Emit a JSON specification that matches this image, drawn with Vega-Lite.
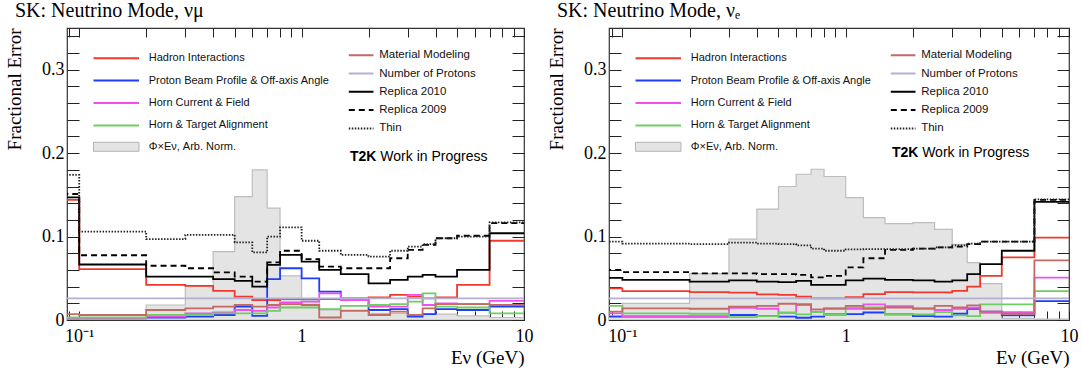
{
  "$schema": "https://vega.github.io/schema/vega-lite/v6.json",
  "autosize": {"type": "pad"},
  "padding": {"left": 4, "top": 0, "right": 4, "bottom": 4},
  "bounds": "flush",
  "spacing": 85,
  "datasets": {
    "numu": [
      {"e": 0.05, "had": 0.144, "pbp": 0.002, "hcf": 0.002, "hta": 0.003, "mat": 0.007, "pot": 0.026, "r10": 0.147, "r09": 0.151, "thin": 0.174, "flux": 0.001},
      {"e": 0.1, "had": 0.061, "pbp": 0.002, "hcf": 0.002, "hta": 0.003, "mat": 0.006, "pot": 0.026, "r10": 0.0665, "r09": 0.0776, "thin": 0.106, "flux": 0.002},
      {"e": 0.2, "had": 0.042, "pbp": 0.003, "hcf": 0.004, "hta": 0.006, "mat": 0.012, "pot": 0.026, "r10": 0.052, "r09": 0.065, "thin": 0.097, "flux": 0.018},
      {"e": 0.3, "had": 0.041, "pbp": 0.004, "hcf": 0.008, "hta": 0.006, "mat": 0.014, "pot": 0.026, "r10": 0.052, "r09": 0.062, "thin": 0.102, "flux": 0.041},
      {"e": 0.4, "had": 0.035, "pbp": 0.006, "hcf": 0.009, "hta": 0.008, "mat": 0.016, "pot": 0.026, "r10": 0.049, "r09": 0.057, "thin": 0.102, "flux": 0.082},
      {"e": 0.5, "had": 0.028, "pbp": 0.016, "hcf": 0.012, "hta": 0.008, "mat": 0.018, "pot": 0.026, "r10": 0.047, "r09": 0.052, "thin": 0.093, "flux": 0.148},
      {"e": 0.6, "had": 0.024, "pbp": 0.005, "hcf": 0.011, "hta": 0.008, "mat": 0.016, "pot": 0.026, "r10": 0.040, "r09": 0.046, "thin": 0.081, "flux": 0.180},
      {"e": 0.7, "had": 0.024, "pbp": 0.049, "hcf": 0.015, "hta": 0.011, "mat": 0.018, "pot": 0.026, "r10": 0.066, "r09": 0.069, "thin": 0.100, "flux": 0.134},
      {"e": 0.8, "had": 0.025, "pbp": 0.062, "hcf": 0.021, "hta": 0.015, "mat": 0.019, "pot": 0.026, "r10": 0.078, "r09": 0.083, "thin": 0.111, "flux": 0.053},
      {"e": 1.0, "had": 0.025, "pbp": 0.050, "hcf": 0.022, "hta": 0.015, "mat": 0.018, "pot": 0.026, "r10": 0.070, "r09": 0.073, "thin": 0.095, "flux": 0.024},
      {"e": 1.2, "had": 0.025, "pbp": 0.034, "hcf": 0.032, "hta": 0.013, "mat": 0.003, "pot": 0.026, "r10": 0.060, "r09": 0.064, "thin": 0.083, "flux": 0.012},
      {"e": 1.5, "had": 0.025, "pbp": 0.026, "hcf": 0.024, "hta": 0.017, "mat": 0.011, "pot": 0.026, "r10": 0.055, "r09": 0.062, "thin": 0.078, "flux": 0.012},
      {"e": 2.0, "had": 0.027, "pbp": 0.012, "hcf": 0.016, "hta": 0.018, "mat": 0.006, "pot": 0.026, "r10": 0.044, "r09": 0.062, "thin": 0.076, "flux": 0.008},
      {"e": 2.5, "had": 0.030, "pbp": 0.013, "hcf": 0.016, "hta": 0.019, "mat": 0.010, "pot": 0.026, "r10": 0.048, "r09": 0.074, "thin": 0.083, "flux": 0.008},
      {"e": 3.0, "had": 0.028, "pbp": 0.004, "hcf": 0.030, "hta": 0.022, "mat": 0.006, "pot": 0.026, "r10": 0.052, "r09": 0.084, "thin": 0.088, "flux": 0.006},
      {"e": 3.5, "had": 0.026, "pbp": 0.007, "hcf": 0.018, "hta": 0.032, "mat": 0.014, "pot": 0.026, "r10": 0.054, "r09": 0.090, "thin": 0.091, "flux": 0.007},
      {"e": 4.0, "had": 0.027, "pbp": 0.013, "hcf": 0.020, "hta": 0.016, "mat": 0.019, "pot": 0.026, "r10": 0.052, "r09": 0.098, "thin": 0.098, "flux": 0.007},
      {"e": 5.0, "had": 0.042, "pbp": 0.012, "hcf": 0.019, "hta": 0.015, "mat": 0.019, "pot": 0.026, "r10": 0.060, "r09": 0.101, "thin": 0.100, "flux": 0.005},
      {"e": 7.0, "had": 0.095, "pbp": 0.016, "hcf": 0.023, "hta": 0.008, "mat": 0.018, "pot": 0.026, "r10": 0.104, "r09": 0.116, "thin": 0.117, "flux": 0.003},
      {"e": 10.0, "had": 0.095, "pbp": 0.016, "hcf": 0.023, "hta": 0.008, "mat": 0.018, "pot": 0.026, "r10": 0.104, "r09": 0.116, "thin": 0.117, "flux": 0.003}
    ],
    "nue": [
      {"e": 0.05, "had": 0.038, "pbp": 0.004, "hcf": 0.008, "hta": 0.017, "mat": 0.010, "pot": 0.026, "r10": 0.0505, "r09": 0.060, "thin": 0.094, "flux": 0.005},
      {"e": 0.1, "had": 0.0347, "pbp": 0.004, "hcf": 0.0047, "hta": 0.008, "mat": 0.014, "pot": 0.026, "r10": 0.048, "r09": 0.0575, "thin": 0.0915, "flux": 0.020},
      {"e": 0.2, "had": 0.0335, "pbp": 0.004, "hcf": 0.0047, "hta": 0.0075, "mat": 0.0135, "pot": 0.026, "r10": 0.046, "r09": 0.056, "thin": 0.091, "flux": 0.0555},
      {"e": 0.3, "had": 0.0327, "pbp": 0.006, "hcf": 0.0147, "hta": 0.0035, "mat": 0.016, "pot": 0.026, "r10": 0.0475, "r09": 0.056, "thin": 0.0927, "flux": 0.097},
      {"e": 0.4, "had": 0.0307, "pbp": 0.0047, "hcf": 0.0135, "hta": 0.0047, "mat": 0.017, "pot": 0.026, "r10": 0.046, "r09": 0.055, "thin": 0.0915, "flux": 0.133},
      {"e": 0.5, "had": 0.030, "pbp": 0.004, "hcf": 0.0087, "hta": 0.0087, "mat": 0.0195, "pot": 0.026, "r10": 0.0455, "r09": 0.055, "thin": 0.091, "flux": 0.160},
      {"e": 0.6, "had": 0.028, "pbp": 0.0027, "hcf": 0.018, "hta": 0.0067, "mat": 0.019, "pot": 0.026, "r10": 0.047, "r09": 0.054, "thin": 0.0895, "flux": 0.1747},
      {"e": 0.7, "had": 0.026, "pbp": 0.004, "hcf": 0.010, "hta": 0.0095, "mat": 0.0127, "pot": 0.026, "r10": 0.042, "r09": 0.051, "thin": 0.0855, "flux": 0.1807},
      {"e": 0.8, "had": 0.026, "pbp": 0.0067, "hcf": 0.0135, "hta": 0.006, "mat": 0.014, "pot": 0.026, "r10": 0.042, "r09": 0.053, "thin": 0.083, "flux": 0.172},
      {"e": 1.0, "had": 0.0275, "pbp": 0.007, "hcf": 0.0135, "hta": 0.0155, "mat": 0.017, "pot": 0.026, "r10": 0.0475, "r09": 0.063, "thin": 0.0847, "flux": 0.1467},
      {"e": 1.2, "had": 0.031, "pbp": 0.009, "hcf": 0.0187, "hta": 0.015, "mat": 0.0135, "pot": 0.026, "r10": 0.0495, "r09": 0.074, "thin": 0.085, "flux": 0.1227},
      {"e": 1.5, "had": 0.0335, "pbp": 0.0067, "hcf": 0.0167, "hta": 0.0067, "mat": 0.015, "pot": 0.026, "r10": 0.048, "r09": 0.084, "thin": 0.085, "flux": 0.1155},
      {"e": 2.0, "had": 0.033, "pbp": 0.0047, "hcf": 0.0135, "hta": 0.0067, "mat": 0.014, "pot": 0.026, "r10": 0.0475, "r09": 0.0855, "thin": 0.0855, "flux": 0.1167},
      {"e": 2.5, "had": 0.033, "pbp": 0.004, "hcf": 0.012, "hta": 0.0095, "mat": 0.017, "pot": 0.026, "r10": 0.046, "r09": 0.087, "thin": 0.087, "flux": 0.1087},
      {"e": 3.0, "had": 0.035, "pbp": 0.0075, "hcf": 0.0135, "hta": 0.0055, "mat": 0.015, "pot": 0.026, "r10": 0.0475, "r09": 0.088, "thin": 0.0895, "flux": 0.0907},
      {"e": 3.5, "had": 0.040, "pbp": 0.0135, "hcf": 0.0147, "hta": 0.0047, "mat": 0.0175, "pot": 0.026, "r10": 0.055, "r09": 0.091, "thin": 0.0915, "flux": 0.0687},
      {"e": 4.0, "had": 0.053, "pbp": 0.010, "hcf": 0.0087, "hta": 0.0187, "mat": 0.010, "pot": 0.026, "r10": 0.067, "r09": 0.094, "thin": 0.094, "flux": 0.0435},
      {"e": 5.0, "had": 0.075, "pbp": 0.0055, "hcf": 0.0095, "hta": 0.0187, "mat": 0.0075, "pot": 0.026, "r10": 0.083, "r09": 0.094, "thin": 0.094, "flux": 0.002},
      {"e": 7.0, "had": 0.0987, "pbp": 0.0227, "hcf": 0.0507, "hta": 0.0347, "mat": 0.0715, "pot": 0.026, "r10": 0.1415, "r09": 0.144, "thin": 0.1447, "flux": 0.001},
      {"e": 10.0, "had": 0.0987, "pbp": 0.0227, "hcf": 0.0507, "hta": 0.0347, "mat": 0.0715, "pot": 0.026, "r10": 0.1415, "r09": 0.144, "thin": 0.1447, "flux": 0.001}
    ]
  },
  "hconcat": [
    {
      "width": 457,
      "height": 292,
      "data": {"name": "numu"},
      "title": {"text": "SK: Neutrino Mode, νμ", "anchor": "start", "frame": "group", "dx": -52, "offset": -10, "baseline": "alphabetic", "font": "Liberation Serif", "fontSize": 20, "fontWeight": "normal", "color": "#000"},
      "layer": [
        {
          "mark": {"type": "area", "interpolate": "step-after", "stroke": "#bdbdbd", "strokeWidth": 1.2, "clip": true},
          "encoding": {
            "x": {"field": "e", "type": "quantitative", "scale": {"type": "log", "domain": [0.0881, 10], "nice": false},
              "axis": {"orient": "bottom", "values": [0.09, 0.1, 0.2, 0.3, 0.4, 0.5, 0.6, 0.7, 0.8, 0.9, 1, 2, 3, 4, 5, 6, 7, 8, 9, 10],
                "labelExpr": "datum.value == 0.1 ? '10⁻¹' : (datum.value == 1 ? '1' : (datum.value == 10 ? '10' : ''))",
                "tickSize": -9, "labelPadding": 16, "labelBaseline": "top",
                "title": "Eν (GeV)", "titleX": 457, "titleY": 43, "titleAlign": "right", "titleBaseline": "alphabetic",
                "encode": {"ticks": {"update": {"y2": {"signal": "(datum.value == 0.1 || datum.value == 1 || datum.value == 10) ? -9 : -5"}}}}}},
            "y": {"field": "flux", "type": "quantitative", "stack": null, "scale": {"domain": [0, 0.35], "nice": false},
              "axis": {"orient": "left", "values": [0, 0.02, 0.04, 0.06, 0.08, 0.1, 0.12, 0.14, 0.16, 0.18, 0.2, 0.22, 0.24, 0.26, 0.28, 0.3, 0.32, 0.34],
                "labelExpr": "datum.value == 0 ? '0' : (round(datum.value * 100) % 10 == 0 ? format(datum.value, '.1f') : '')",
                "tickSize": -12, "labelPadding": 15,
                "title": "Fractional Error", "titleAngle": -90, "titleAlign": "right", "titleBaseline": "alphabetic", "titleX": -47, "titleY": 0,
                "encode": {"ticks": {"update": {"x2": {"signal": "round(datum.value * 100) % 10 == 0 ? 12 : 6"}}}}}},
            "fill": {"datum": "Φ×Eν, Arb. Norm.", "type": "nominal", "scale": {"range": ["#e4e4e4"]},
              "legend": {"orient": "none", "legendX": 26.5, "legendY": 113.3, "title": null, "symbolType": "M-4.55,-0.9H4.55V0.9H-4.55Z", "symbolSize": 100, "symbolStrokeColor": "#b5b5b5", "symbolStrokeWidth": 1, "symbolOffset": 17.25, "labelOffset": 26.95, "labelFont": "Liberation Sans", "labelFontSize": 11, "labelColor": "#111", "padding": 0, "labelLimit": 400}}
          }
        },
        {
          "transform": [{"fold": ["had", "pbp", "hcf", "hta"], "as": ["k", "v"]}],
          "mark": {"type": "line", "interpolate": "step-after", "strokeWidth": 1.8, "clip": true},
          "encoding": {
            "x": {"field": "e", "type": "quantitative", "scale": {"type": "log", "domain": [0.0881, 10], "nice": false},
              "axis": {"orient": "top", "values": [0.09, 0.1, 0.2, 0.3, 0.4, 0.5, 0.6, 0.7, 0.8, 0.9, 1, 2, 3, 4, 5, 6, 7, 8, 9, 10], "labels": false, "tickSize": -9, "title": null,
                "encode": {"ticks": {"update": {"y2": {"signal": "(datum.value == 0.1 || datum.value == 1 || datum.value == 10) ? 9 : 5"}}}}}},
            "y": {"field": "v", "type": "quantitative", "scale": {"domain": [0, 0.35], "nice": false},
              "axis": {"orient": "right", "values": [0, 0.02, 0.04, 0.06, 0.08, 0.1, 0.12, 0.14, 0.16, 0.18, 0.2, 0.22, 0.24, 0.26, 0.28, 0.3, 0.32, 0.34], "labels": false, "tickSize": -12, "title": null,
                "encode": {"ticks": {"update": {"x2": {"signal": "round(datum.value * 100) % 10 == 0 ? -12 : -6"}}}}}},
            "color": {"field": "k", "type": "nominal", "scale": {"domain": ["had", "pbp", "hcf", "hta"], "range": ["#f2382c", "#1f3dff", "#f050f0", "#6fce63"]},
              "legend": {"orient": "none", "legendX": 26.5, "legendY": 24.2, "title": null, "direction": "vertical", "symbolType": "M-4.55,0H4.55", "symbolSize": 100, "symbolStrokeWidth": 2, "symbolOffset": 16.75, "labelOffset": 26.45, "labelFont": "Liberation Sans", "labelFontSize": 11, "labelColor": "#111", "rowPadding": 11.4, "padding": 0, "labelLimit": 400,
                "labelExpr": "datum.label == 'had' ? 'Hadron Interactions' : (datum.label == 'pbp' ? 'Proton Beam Profile & Off-axis Angle' : (datum.label == 'hcf' ? 'Horn Current & Field' : 'Horn & Target Alignment'))"}}
          }
        },
        {
          "transform": [{"fold": ["mat", "pot", "r10", "r09", "thin"], "as": ["k", "v"]}],
          "mark": {"type": "line", "interpolate": "step-after", "strokeWidth": 1.8, "clip": true},
          "encoding": {
            "x": {"field": "e", "type": "quantitative", "scale": {"type": "log", "domain": [0.0881, 10], "nice": false}, "axis": null},
            "y": {"field": "v", "type": "quantitative", "scale": {"domain": [0, 0.35], "nice": false}, "axis": null},
            "stroke": {"field": "k", "type": "nominal", "scale": {"domain": ["mat", "pot", "r10", "r09", "thin"], "range": ["#c46a64", "#b3b0d3", "#000000", "#000000", "#222222"]},
              "legend": {"orient": "none", "legendX": 281.8, "legendY": 21.2, "title": null, "direction": "vertical", "symbolType": "M-2.47,0H2.47", "symbolSize": 100, "symbolStrokeWidth": 2, "symbolOffset": 6.35, "labelOffset": 12.05, "labelFont": "Liberation Sans", "labelFontSize": 11.5, "labelColor": "#111", "rowPadding": 6.3, "padding": 0, "labelLimit": 400,
                "labelExpr": "datum.label == 'mat' ? 'Material Modeling' : (datum.label == 'pot' ? 'Number of Protons' : (datum.label == 'r10' ? 'Replica 2010' : (datum.label == 'r09' ? 'Replica 2009' : 'Thin')))"}},
            "strokeDash": {"field": "k", "type": "nominal", "scale": {"domain": ["mat", "pot", "r10", "r09", "thin"], "range": [[1, 0], [1, 0], [1, 0], [6, 4], [1.5, 1.5]]},
              "legend": {"orient": "none", "legendX": 281.8, "legendY": 21.2, "title": null, "direction": "vertical", "symbolType": "M-2.47,0H2.47", "symbolSize": 100, "symbolStrokeWidth": 2, "symbolOffset": 6.35, "labelOffset": 12.05, "labelFont": "Liberation Sans", "labelFontSize": 11.5, "labelColor": "#111", "rowPadding": 6.3, "padding": 0, "labelLimit": 400,
                "labelExpr": "datum.label == 'mat' ? 'Material Modeling' : (datum.label == 'pot' ? 'Number of Protons' : (datum.label == 'r10' ? 'Replica 2010' : (datum.label == 'r09' ? 'Replica 2009' : 'Thin')))"}}
          }
        },
        {
          "data": {"values": [{"x": 1.65, "y": 0.19, "t": "T2K"}]},
          "mark": {"type": "text", "align": "left", "baseline": "alphabetic", "font": "Liberation Sans", "fontSize": 14, "fontWeight": "bold", "color": "#000"},
          "encoding": {
            "x": {"field": "x", "type": "quantitative", "scale": {"type": "log", "domain": [0.0881, 10], "nice": false}, "axis": null},
            "y": {"field": "y", "type": "quantitative", "scale": {"domain": [0, 0.35], "nice": false}, "axis": null},
            "text": {"field": "t"}
          }
        },
        {
          "data": {"values": [{"x": 2.26, "y": 0.19, "t": "Work in Progress"}]},
          "mark": {"type": "text", "align": "left", "baseline": "alphabetic", "font": "Liberation Sans", "fontSize": 14, "fontWeight": "normal", "color": "#000"},
          "encoding": {
            "x": {"field": "x", "type": "quantitative", "scale": {"type": "log", "domain": [0.0881, 10], "nice": false}, "axis": null},
            "y": {"field": "y", "type": "quantitative", "scale": {"domain": [0, 0.35], "nice": false}, "axis": null},
            "text": {"field": "t"}
          }
        }
      ],
      "resolve": {"axis": {"x": "independent", "y": "independent"}}
    },
    {
      "width": 460,
      "height": 292,
      "data": {"name": "nue"},
      "title": {"text": "SK: Neutrino Mode, νₑ", "anchor": "start", "frame": "group", "dx": -52, "offset": -10, "baseline": "alphabetic", "font": "Liberation Serif", "fontSize": 20, "fontWeight": "normal", "color": "#000"},
      "layer": [
        {
          "mark": {"type": "area", "interpolate": "step-after", "stroke": "#bdbdbd", "strokeWidth": 1.2, "clip": true},
          "encoding": {
            "x": {"field": "e", "type": "quantitative", "scale": {"type": "log", "domain": [0.0871, 10], "nice": false},
              "axis": {"orient": "bottom", "values": [0.09, 0.1, 0.2, 0.3, 0.4, 0.5, 0.6, 0.7, 0.8, 0.9, 1, 2, 3, 4, 5, 6, 7, 8, 9, 10],
                "labelExpr": "datum.value == 0.1 ? '10⁻¹' : (datum.value == 1 ? '1' : (datum.value == 10 ? '10' : ''))",
                "tickSize": -9, "labelPadding": 16, "labelBaseline": "top",
                "title": "Eν (GeV)", "titleX": 460, "titleY": 43, "titleAlign": "right", "titleBaseline": "alphabetic",
                "encode": {"ticks": {"update": {"y2": {"signal": "(datum.value == 0.1 || datum.value == 1 || datum.value == 10) ? -9 : -5"}}}}}},
            "y": {"field": "flux", "type": "quantitative", "stack": null, "scale": {"domain": [0, 0.35], "nice": false},
              "axis": {"orient": "left", "values": [0, 0.02, 0.04, 0.06, 0.08, 0.1, 0.12, 0.14, 0.16, 0.18, 0.2, 0.22, 0.24, 0.26, 0.28, 0.3, 0.32, 0.34],
                "labelExpr": "datum.value == 0 ? '0' : (round(datum.value * 100) % 10 == 0 ? format(datum.value, '.1f') : '')",
                "tickSize": -12, "labelPadding": 15,
                "title": "Fractional Error", "titleAngle": -90, "titleAlign": "right", "titleBaseline": "alphabetic", "titleX": -47, "titleY": 0,
                "encode": {"ticks": {"update": {"x2": {"signal": "round(datum.value * 100) % 10 == 0 ? 12 : 6"}}}}}},
            "fill": {"datum": "Φ×Eν, Arb. Norm.", "type": "nominal", "scale": {"range": ["#e4e4e4"]},
              "legend": {"orient": "none", "legendX": 26.5, "legendY": 113.3, "title": null, "symbolType": "M-4.55,-0.9H4.55V0.9H-4.55Z", "symbolSize": 100, "symbolStrokeColor": "#b5b5b5", "symbolStrokeWidth": 1, "symbolOffset": 17.25, "labelOffset": 26.95, "labelFont": "Liberation Sans", "labelFontSize": 11, "labelColor": "#111", "padding": 0, "labelLimit": 400}}
          }
        },
        {
          "transform": [{"fold": ["had", "pbp", "hcf", "hta"], "as": ["k", "v"]}],
          "mark": {"type": "line", "interpolate": "step-after", "strokeWidth": 1.8, "clip": true},
          "encoding": {
            "x": {"field": "e", "type": "quantitative", "scale": {"type": "log", "domain": [0.0871, 10], "nice": false},
              "axis": {"orient": "top", "values": [0.09, 0.1, 0.2, 0.3, 0.4, 0.5, 0.6, 0.7, 0.8, 0.9, 1, 2, 3, 4, 5, 6, 7, 8, 9, 10], "labels": false, "tickSize": -9, "title": null,
                "encode": {"ticks": {"update": {"y2": {"signal": "(datum.value == 0.1 || datum.value == 1 || datum.value == 10) ? 9 : 5"}}}}}},
            "y": {"field": "v", "type": "quantitative", "scale": {"domain": [0, 0.35], "nice": false},
              "axis": {"orient": "right", "values": [0, 0.02, 0.04, 0.06, 0.08, 0.1, 0.12, 0.14, 0.16, 0.18, 0.2, 0.22, 0.24, 0.26, 0.28, 0.3, 0.32, 0.34], "labels": false, "tickSize": -12, "title": null,
                "encode": {"ticks": {"update": {"x2": {"signal": "round(datum.value * 100) % 10 == 0 ? -12 : -6"}}}}}},
            "color": {"field": "k", "type": "nominal", "scale": {"domain": ["had", "pbp", "hcf", "hta"], "range": ["#f2382c", "#1f3dff", "#f050f0", "#6fce63"]},
              "legend": {"orient": "none", "legendX": 26.5, "legendY": 24.2, "title": null, "direction": "vertical", "symbolType": "M-4.55,0H4.55", "symbolSize": 100, "symbolStrokeWidth": 2, "symbolOffset": 16.75, "labelOffset": 26.45, "labelFont": "Liberation Sans", "labelFontSize": 11, "labelColor": "#111", "rowPadding": 11.4, "padding": 0, "labelLimit": 400,
                "labelExpr": "datum.label == 'had' ? 'Hadron Interactions' : (datum.label == 'pbp' ? 'Proton Beam Profile & Off-axis Angle' : (datum.label == 'hcf' ? 'Horn Current & Field' : 'Horn & Target Alignment'))"}}
          }
        },
        {
          "transform": [{"fold": ["mat", "pot", "r10", "r09", "thin"], "as": ["k", "v"]}],
          "mark": {"type": "line", "interpolate": "step-after", "strokeWidth": 1.8, "clip": true},
          "encoding": {
            "x": {"field": "e", "type": "quantitative", "scale": {"type": "log", "domain": [0.0871, 10], "nice": false}, "axis": null},
            "y": {"field": "v", "type": "quantitative", "scale": {"domain": [0, 0.35], "nice": false}, "axis": null},
            "stroke": {"field": "k", "type": "nominal", "scale": {"domain": ["mat", "pot", "r10", "r09", "thin"], "range": ["#c46a64", "#b3b0d3", "#000000", "#000000", "#222222"]},
              "legend": {"orient": "none", "legendX": 281.8, "legendY": 21.2, "title": null, "direction": "vertical", "symbolType": "M-2.47,0H2.47", "symbolSize": 100, "symbolStrokeWidth": 2, "symbolOffset": 6.35, "labelOffset": 12.05, "labelFont": "Liberation Sans", "labelFontSize": 11.5, "labelColor": "#111", "rowPadding": 6.3, "padding": 0, "labelLimit": 400,
                "labelExpr": "datum.label == 'mat' ? 'Material Modeling' : (datum.label == 'pot' ? 'Number of Protons' : (datum.label == 'r10' ? 'Replica 2010' : (datum.label == 'r09' ? 'Replica 2009' : 'Thin')))"}},
            "strokeDash": {"field": "k", "type": "nominal", "scale": {"domain": ["mat", "pot", "r10", "r09", "thin"], "range": [[1, 0], [1, 0], [1, 0], [6, 4], [1.5, 1.5]]},
              "legend": {"orient": "none", "legendX": 281.8, "legendY": 21.2, "title": null, "direction": "vertical", "symbolType": "M-2.47,0H2.47", "symbolSize": 100, "symbolStrokeWidth": 2, "symbolOffset": 6.35, "labelOffset": 12.05, "labelFont": "Liberation Sans", "labelFontSize": 11.5, "labelColor": "#111", "rowPadding": 6.3, "padding": 0, "labelLimit": 400,
                "labelExpr": "datum.label == 'mat' ? 'Material Modeling' : (datum.label == 'pot' ? 'Number of Protons' : (datum.label == 'r10' ? 'Replica 2010' : (datum.label == 'r09' ? 'Replica 2009' : 'Thin')))"}}
          }
        },
        {
          "data": {"values": [{"x": 1.61, "y": 0.195, "t": "T2K"}]},
          "mark": {"type": "text", "align": "left", "baseline": "alphabetic", "font": "Liberation Sans", "fontSize": 14, "fontWeight": "bold", "color": "#000"},
          "encoding": {
            "x": {"field": "x", "type": "quantitative", "scale": {"type": "log", "domain": [0.0871, 10], "nice": false}, "axis": null},
            "y": {"field": "y", "type": "quantitative", "scale": {"domain": [0, 0.35], "nice": false}, "axis": null},
            "text": {"field": "t"}
          }
        },
        {
          "data": {"values": [{"x": 2.2, "y": 0.195, "t": "Work in Progress"}]},
          "mark": {"type": "text", "align": "left", "baseline": "alphabetic", "font": "Liberation Sans", "fontSize": 14, "fontWeight": "normal", "color": "#000"},
          "encoding": {
            "x": {"field": "x", "type": "quantitative", "scale": {"type": "log", "domain": [0.0871, 10], "nice": false}, "axis": null},
            "y": {"field": "y", "type": "quantitative", "scale": {"domain": [0, 0.35], "nice": false}, "axis": null},
            "text": {"field": "t"}
          }
        }
      ],
      "resolve": {"axis": {"x": "independent", "y": "independent"}}
    }
  ],
  "resolve": {
    "scale": {"color": "independent", "stroke": "independent", "strokeDash": "independent", "fill": "independent"},
    "legend": {"color": "independent", "stroke": "independent", "strokeDash": "independent", "fill": "independent"}
  },
  "config": {
    "background": "white",
    "view": {"stroke": "#333333", "strokeWidth": 1.2},
    "axis": {"grid": false, "domain": false, "tickColor": "#222222", "tickWidth": 1, "labelColor": "#000000", "titleColor": "#000000", "labelFont": "Liberation Serif", "labelFontSize": 18, "titleFont": "Liberation Serif", "titleFontSize": 19, "titleFontWeight": "normal", "labelOverlap": false, "labelFlush": false, "labelBound": false}
  }
}
